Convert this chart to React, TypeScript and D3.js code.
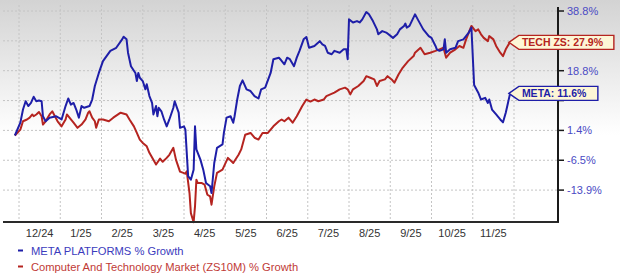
import React from 'react';
import * as d3 from 'd3';

const monthLabels = ["12/24", "1/25", "2/25", "3/25", "4/25", "5/25", "6/25", "7/25", "8/25", "9/25", "10/25", "11/25"];
const yTickValues = [38.8, 28.4, 18.8, 9.8, 1.4, -6.5, -13.9];
// tick labels hidden behind the callouts in the reference
const yTickHidden = [28.4, 9.8];

const metaDates = [
  "2024-11-28","2024-12-02","2024-12-04","2024-12-06","2024-12-08","2024-12-10","2024-12-12","2024-12-14","2024-12-16","2024-12-18",
  "2024-12-19","2024-12-21","2024-12-24","2024-12-29","2025-01-02","2025-01-05","2025-01-07","2025-01-09","2025-01-11","2025-01-13",
  "2025-01-15","2025-01-17","2025-01-19","2025-01-23","2025-01-25","2025-01-27","2025-01-30","2025-02-02","2025-02-07","2025-02-11",
  "2025-02-15","2025-02-16","2025-02-18","2025-02-19","2025-02-21","2025-02-24","2025-02-25","2025-02-26","2025-02-27","2025-03-01",
  "2025-03-03","2025-03-04","2025-03-06","2025-03-08","2025-03-09","2025-03-11","2025-03-12","2025-03-13","2025-03-15","2025-03-17",
  "2025-03-19","2025-03-21","2025-03-24","2025-03-25","2025-03-28","2025-03-29","2025-04-01","2025-04-02","2025-04-04","2025-04-06",
  "2025-04-08","2025-04-09","2025-04-10","2025-04-13","2025-04-15","2025-04-17","2025-04-20","2025-04-21","2025-04-23","2025-04-25",
  "2025-04-29","2025-04-30","2025-05-02","2025-05-05","2025-05-07","2025-05-08","2025-05-10","2025-05-12","2025-05-14","2025-05-17",
  "2025-05-20","2025-05-23","2025-05-26","2025-05-28","2025-05-31","2025-06-04","2025-06-06","2025-06-10","2025-06-11","2025-06-14",
  "2025-06-16","2025-06-18","2025-06-21","2025-06-23","2025-06-25","2025-06-28","2025-06-30","2025-07-02","2025-07-06","2025-07-10",
  "2025-07-12","2025-07-14","2025-07-16","2025-07-19","2025-07-21","2025-07-25","2025-07-28","2025-07-30","2025-07-31","2025-08-01",
  "2025-08-04","2025-08-07","2025-08-09","2025-08-11","2025-08-14","2025-08-16","2025-08-19","2025-08-22","2025-08-23","2025-08-26",
  "2025-08-29","2025-09-03","2025-09-06","2025-09-08","2025-09-11","2025-09-12","2025-09-13","2025-09-15","2025-09-19","2025-09-21",
  "2025-09-25","2025-09-29","2025-10-01","2025-10-04","2025-10-05","2025-10-07","2025-10-10","2025-10-11","2025-10-12","2025-10-15",
  "2025-10-19","2025-10-21","2025-10-25","2025-10-29","2025-10-31","2025-11-02","2025-11-05","2025-11-07","2025-11-10","2025-11-12",
  "2025-11-13","2025-11-15","2025-11-18","2025-11-21","2025-11-23","2025-11-25","2025-11-28"
];
const metaValues = [
  0.0, 3.5, 7.2, 9.6, 8.2, 9.1, 10.9, 9.6, 9.8, 9.6,
  5.3, 3.9, 4.9, 5.3, 4.4, 8.2, 10.4, 8.6, 9.1, 7.2,
  4.9, 8.2, 7.7, 8.2, 10.1, 14.1, 18.1, 21.8, 25.1, 26.1,
  28.9, 29.8, 28.9, 24.5, 20.2, 18.1, 15.6, 18.1, 16.6, 15.6,
  13.1, 14.6, 11.1, 9.1, 5.8, 8.2, 5.3, 7.7, 6.7, 4.4,
  2.5, 4.4, 7.7, 9.6, 6.3, 2.1, 2.5, 1.6, -10.5, -11.4,
  -8.9, 2.5, -3.7, -6.4, -8.9, -12.2, -13.0, -14.6, -7.2, -3.3,
  -2.4, 0.7, 4.9, 5.3, 3.5, 5.3, 10.1, 14.1, 15.8, 13.1,
  12.6, 11.1, 10.4, 13.1, 13.6, 18.1, 22.4, 22.9, 22.4, 20.8,
  22.9, 22.4, 20.2, 22.9, 25.1, 28.9, 29.7, 26.1, 26.7, 28.3,
  27.2, 26.7, 24.5, 24.0, 25.1, 24.5, 25.6, 25.6, 22.4, 35.8,
  34.7, 35.2, 34.7, 35.8, 38.4, 37.6, 35.2, 32.3, 30.6, 31.7,
  31.2, 29.4, 30.6, 32.3, 33.5, 34.3, 32.9, 33.5, 37.6, 35.8,
  32.3, 30.0, 29.4, 26.7, 25.6, 25.1, 25.6, 28.9, 24.5, 25.6,
  26.1, 28.3, 28.9, 31.2, 32.9, 14.4, 12.1, 10.1, 10.6, 9.1,
  10.1, 7.2, 5.8, 4.4, 3.6, 6.3, 11.6
];

const techDates = [
  "2024-11-28","2024-12-02","2024-12-04","2024-12-07","2024-12-09","2024-12-11","2024-12-12","2024-12-14","2024-12-16","2024-12-18",
  "2024-12-19","2024-12-21","2024-12-24","2024-12-26","2024-12-28","2024-12-30","2025-01-02","2025-01-05","2025-01-06","2025-01-09",
  "2025-01-11","2025-01-14","2025-01-17","2025-01-20","2025-01-22","2025-01-23","2025-01-25","2025-01-27","2025-01-28","2025-01-30",
  "2025-02-02","2025-02-06","2025-02-09","2025-02-14","2025-02-18","2025-02-20","2025-02-23","2025-02-25","2025-02-27","2025-03-01",
  "2025-03-04","2025-03-06","2025-03-09","2025-03-11","2025-03-14","2025-03-16","2025-03-19","2025-03-21","2025-03-24","2025-03-26",
  "2025-03-29","2025-04-02","2025-04-03","2025-04-05","2025-04-06","2025-04-08","2025-04-09","2025-04-10","2025-04-11","2025-04-14",
  "2025-04-16","2025-04-18","2025-04-20","2025-04-21","2025-04-23","2025-04-25","2025-04-29","2025-05-03","2025-05-07","2025-05-11",
  "2025-05-13","2025-05-16","2025-05-20","2025-05-23","2025-05-26","2025-05-29","2025-06-02","2025-06-06","2025-06-10","2025-06-12",
  "2025-06-14","2025-06-17","2025-06-20","2025-06-23","2025-06-27","2025-06-30","2025-07-03","2025-07-06","2025-07-09","2025-07-13",
  "2025-07-15","2025-07-18","2025-07-21","2025-07-25","2025-07-29","2025-07-31","2025-08-02","2025-08-04","2025-08-08","2025-08-12",
  "2025-08-14","2025-08-17","2025-08-20","2025-08-22","2025-08-24","2025-08-28","2025-08-30","2025-09-02","2025-09-04","2025-09-07",
  "2025-09-10","2025-09-14","2025-09-18","2025-09-19","2025-09-23","2025-09-26","2025-09-30","2025-10-04","2025-10-07","2025-10-10",
  "2025-10-12","2025-10-15","2025-10-19","2025-10-22","2025-10-25","2025-10-27","2025-10-31","2025-11-03","2025-11-05","2025-11-07",
  "2025-11-09","2025-11-12","2025-11-13","2025-11-16","2025-11-18","2025-11-21","2025-11-23","2025-11-25","2025-11-28"
];
const techValues = [
  0.0, 1.6, 3.9, 4.4, 4.9, 5.8, 5.3, 5.8, 6.5, 5.3,
  3.0, 3.9, 5.8, 6.7, 5.3, 3.9, 2.5, 4.4, 5.8, 4.4,
  3.5, 2.1, 3.0, 4.4, 6.3, 6.7, 4.9, 3.9, 2.1, 4.4,
  4.4, 3.9, 4.9, 6.3, 5.8, 4.4, 2.5, 0.7, -1.1, -2.0,
  -2.9, -4.6, -6.4, -7.6, -6.1, -6.9, -5.9, -5.1, -3.3, -6.4,
  -9.4, -9.9, -9.3, -14.6, -19.2, -21.2, -17.7, -11.4, -12.2, -12.2,
  -12.6, -15.0, -15.4, -17.3, -13.0, -9.7, -8.9, -5.9, -7.2, -5.1,
  -3.7, 0.2, 0.7, -0.6, -1.1, 0.7, 0.7, 2.5, 3.9, 4.4,
  3.9, 4.9, 3.5, 5.3, 8.2, 10.1, 9.5, 10.1, 9.6, 10.1,
  11.1, 11.6, 12.1, 13.1, 13.6, 13.1, 11.6, 13.1, 14.1, 15.6,
  17.1, 16.6, 16.1, 14.1, 15.6, 16.1, 17.1, 16.1, 15.1, 17.6,
  19.7, 21.8, 23.4, 24.5, 26.1, 24.0, 24.5, 25.1, 25.6, 26.1,
  22.9, 24.5, 25.6, 26.7, 26.1, 28.9, 33.5, 31.7, 32.3, 30.6,
  29.4, 28.3, 30.0, 28.9, 26.7, 24.5, 23.4, 25.6, 27.9
];

const parse = d3.timeParse("%Y-%m-%d");
function monthPos(s: string): number {
  const d = parse(s) as Date;
  const y = d.getFullYear();
  const m = d.getMonth();
  const dim = new Date(y, m + 1, 0).getDate();
  return (y - 2024) * 12 + m - 11 + (d.getDate() - 1) / dim;
}

const FONT = "'Liberation Sans', Arial, Helvetica, sans-serif";
const BLUE = "#1e1ea8";
const RED = "#b52420";

export default function App() {
  const W = 620, H = 277;
  const plotLeft = 3, plotRight = 558, plotTop = 5, plotBottom = 222;
  const x = d3.scaleLinear().domain([0, monthLabels.length]).range([19, 514]);
  const yTop = 11, yStep = 29.85;
  const y = d3.scaleLog()
    .domain(yTickValues.map(v => 1 + v / 100))
    .range(yTickValues.map((_, i) => yTop + i * yStep));
  const yv = (v: number) => y(1 + v / 100);

  const line = d3.line<[number, number]>().x(d => d[0]).y(d => d[1]);
  const metaPts: [number, number][] = metaDates.map((s, i) => [x(monthPos(s)), yv(metaValues[i])]);
  const techPts: [number, number][] = techDates.map((s, i) => [x(monthPos(s)), yv(techValues[i])]);

  const gridX = d3.range(0, monthLabels.length + 1);
  const lastMeta = metaPts[metaPts.length - 1];
  const lastTech = techPts[techPts.length - 1];

  const callout = (tipX: number, cy: number, w: number, label: string, color: string) => {
    const bx = tipX + 10, h = 14, top = cy - h / 2, bot = cy + h / 2;
    const p = `M${tipX},${cy} L${bx},${top} L${bx + w},${top} L${bx + w},${bot} L${bx},${bot} Z`;
    return (
      <g>
        <path d={p} fill="#fdf6d6" stroke={color} strokeWidth={1.4} />
        <text x={bx + 3} y={cy + 4} fontSize={10.5} fontWeight="bold" fill={color} fontFamily={FONT}>{label}</text>
      </g>
    );
  };

  return (
    <svg width={W} height={H} style={{ position: 'absolute', left: 0, top: 0 }}>
      <defs>
        <linearGradient id="bg" x1="0" y1="0" x2="0" y2="1">
          <stop offset="0" stopColor="#d3d3d3" />
          <stop offset="1" stopColor="#ffffff" />
        </linearGradient>
      </defs>
      <rect x={0} y={0} width={W} height={H} fill="#ffffff" />
      <rect x={0} y={0} width={W} height={135} fill="url(#bg)" />
      {/* grid */}
      {yTickValues.map((v, i) => (
        <line key={'gy' + i} x1={plotLeft} x2={plotRight} y1={yv(v)} y2={yv(v)} stroke="#c4c4c4" strokeDasharray="2,2" strokeWidth={1} />
      ))}
      {gridX.map(i => (
        <line key={'gx' + i} x1={x(i)} x2={x(i)} y1={plotTop} y2={plotBottom} stroke="#c4c4c4" strokeDasharray="2,2" strokeWidth={1} />
      ))}
      {/* series */}
      <path d={line(techPts) || ''} fill="none" stroke={RED} strokeWidth={2} strokeLinejoin="round" />
      <path d={line(metaPts) || ''} fill="none" stroke={BLUE} strokeWidth={2} strokeLinejoin="round" />
      {/* axes */}
      <line x1={plotLeft} x2={plotRight + 1} y1={plotBottom} y2={plotBottom} stroke="#2a2a2a" strokeWidth={2} />
      <line x1={plotRight} x2={plotRight} y1={plotTop + 2} y2={plotBottom} stroke="#1a1a1a" strokeWidth={2} />
      {yTickValues.map((v, i) => (
        <g key={'yt' + i}>
          <line x1={plotRight} x2={plotRight + 6} y1={yv(v)} y2={yv(v)} stroke="#1a1a1a" strokeWidth={1.5} />
          {yTickHidden.indexOf(v) < 0 && (
            <text x={plotRight + 9} y={yv(v) + 4} fontSize={11} fill="#4a4ac4" fontFamily={FONT}>{v.toFixed(1) + '%'}</text>
          )}
        </g>
      ))}
      {monthLabels.map((m, i) => (
        <text key={'xl' + i} x={x(i + 0.5)} y={237} fontSize={11} fill="#333" textAnchor="middle" fontFamily={FONT}>{m}</text>
      ))}
      {/* callouts */}
      {callout(lastTech[0] - 1, lastTech[1], 95, `TECH ZS: ${techValues[techValues.length - 1].toFixed(1)}%`, RED)}
      {callout(lastMeta[0] - 1, lastMeta[1] - 1, 79, `META: ${metaValues[metaValues.length - 1].toFixed(1)}%`, BLUE)}
      {/* legend */}
      <rect x={18} y={249.5} width={5} height={2} fill={BLUE} />
      <text x={31} y={254.5} fontSize={11.2} fill="#3b3bbd" fontFamily={FONT}>META PLATFORMS % Growth</text>
      <rect x={18} y={265.5} width={5} height={2} fill={RED} />
      <text x={31} y={270.5} fontSize={11.2} fill="#bf3a36" fontFamily={FONT}>Computer And Technology Market (ZS10M) % Growth</text>
    </svg>
  );
}
